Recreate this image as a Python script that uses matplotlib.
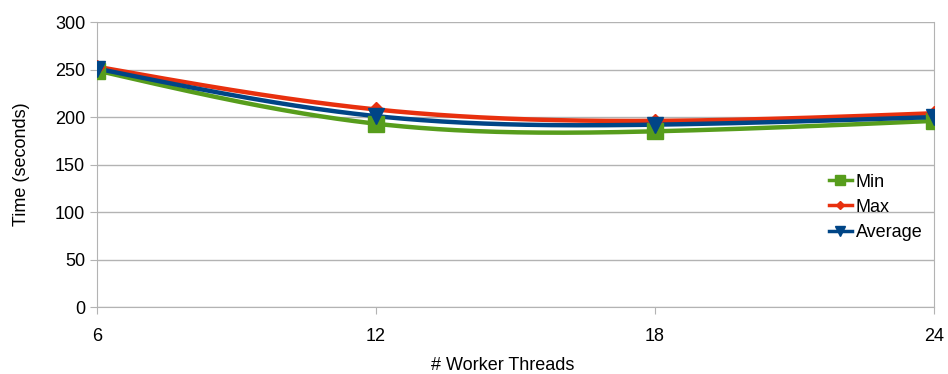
import matplotlib

matplotlib.use("Agg")
import matplotlib.pyplot as plt
import numpy as np

plt.rcParams["font.family"] = ["Liberation Sans", "DejaVu Sans"]

threads = [6, 12, 18, 24]
t_min = [249, 193, 185, 196]
t_max = [253, 208, 196, 204]
t_avg = [251, 201, 192, 200]

GRID = "#b3b3b3"


def natural_spline(x, y, n=200):
    """Natural cubic spline through the points, for a smoothed line."""
    x, y = np.asarray(x, float), np.asarray(y, float)
    k = len(x)
    h = np.diff(x)
    A = np.zeros((k, k))
    b = np.zeros(k)
    A[0, 0] = A[-1, -1] = 1.0
    for i in range(1, k - 1):
        A[i, i - 1], A[i, i], A[i, i + 1] = h[i - 1], 2 * (h[i - 1] + h[i]), h[i]
        b[i] = 6 * ((y[i + 1] - y[i]) / h[i] - (y[i] - y[i - 1]) / h[i - 1])
    m = np.linalg.solve(A, b)
    xs = np.linspace(x[0], x[-1], n)
    idx = np.clip(np.searchsorted(x, xs) - 1, 0, k - 2)
    x0, x1, hh = x[idx], x[idx + 1], h[idx]
    ys = (m[idx] * (x1 - xs) ** 3 + m[idx + 1] * (xs - x0) ** 3) / (6 * hh) \
        + (y[idx] / hh - m[idx] * hh / 6) * (x1 - xs) \
        + (y[idx + 1] / hh - m[idx + 1] * hh / 6) * (xs - x0)
    return xs, ys


fig = plt.figure(figsize=(9.48, 3.74), dpi=100)
ax = fig.add_axes([0.1023, 0.179, 0.883, 0.762])

series = [
    ("Min", t_min, "#579d1c", "s", 11),
    ("Max", t_max, "#e8300e", "D", 7),
    ("Average", t_avg, "#004586", "v", 12),
]
for name, vals, color, marker, ms in series:
    xs, ys = natural_spline(threads, vals)
    ax.plot(xs, ys, color=color, lw=3.2, solid_capstyle="butt", zorder=3)
    ax.plot(threads, vals, ls="none", marker=marker, ms=ms, color=color, zorder=4)
    ax.plot([], [], color=color, lw=2.5, marker=marker, ms=ms * 0.6, label=name)

ax.set_xlim(6, 24)
ax.set_ylim(0, 300)
ax.set_xticks(threads)
ax.set_yticks(range(0, 301, 50))
ax.yaxis.grid(True, color=GRID, lw=1)
ax.set_axisbelow(True)
for side in ["left", "bottom", "right"]:
    ax.spines[side].set_color(GRID)
ax.spines["top"].set_visible(False)
ax.tick_params(axis="both", colors=GRID, labelcolor="black", labelsize=13, length=5)
ax.tick_params(axis="x", pad=10)

ax.set_xlabel("# Worker Threads", fontsize=13)
ax.xaxis.set_label_coords(0.485, -0.175)
ax.set_ylabel("Time (seconds)", fontsize=13, labelpad=18)

ax.legend(loc="center left", bbox_to_anchor=(0.874, 0.35), frameon=False,
          fontsize=13, handlelength=1.3, handletextpad=0.2, labelspacing=0.45,
          borderaxespad=0, borderpad=0)

fig.savefig("out.png", dpi=100)
